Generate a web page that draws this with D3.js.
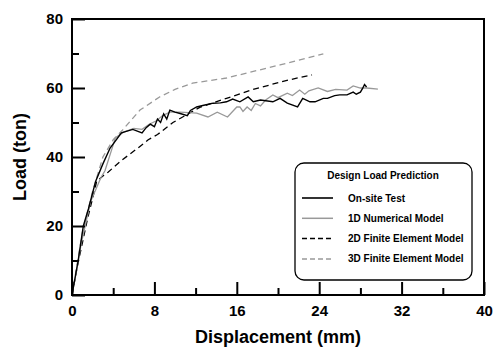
<!DOCTYPE html>
<html>
<head>
<meta charset="utf-8">
<script src="https://cdn.jsdelivr.net/npm/d3@7"></script>
<style>
  body { margin: 0; background: #fff; }
  text { font-family: "Liberation Sans", Arial, sans-serif; font-weight: bold; }
</style>
</head>
<body>
<div id="chart"></div>
<script>
// displacement (mm), load (ton)
const onSiteTest = [
  [0, 0], [0.6, 10], [1.1, 20], [1.6, 25], [2.3, 33], [3.0, 38], [3.7, 42.6], [4.8, 47], [5.9, 48],
  [6.8, 47], [7.2, 48.5], [7.6, 49.5], [8.0, 48.8], [8.3, 51], [8.6, 50], [8.9, 52.5], [9.2, 51],
  [9.5, 53.6], [10.0, 53], [10.5, 52.6], [11.2, 52], [11.5, 53.5], [12.1, 54.5], [12.8, 55],
  [13.7, 55.6], [14.4, 55.7], [15.0, 56], [15.6, 56.8], [16.3, 56], [17.1, 57.4], [17.6, 56],
  [18.3, 56.5], [19.5, 56], [20.2, 57], [20.9, 55.6], [21.9, 54.5], [22.4, 57], [23.1, 56],
  [23.6, 56], [24.4, 57], [24.8, 57], [25.5, 57.8], [26.0, 58], [26.7, 58], [27.3, 58.8],
  [27.6, 58.2], [28.0, 58.8], [28.2, 59.8], [28.4, 61], [28.6, 60.3]
];
const numerical1D = [
  [0, 0], [0.5, 8], [0.9, 15], [1.8, 27], [2.8, 34], [3.2, 36], [4.0, 43.5], [4.2, 45.5],
  [5.0, 47.2], [6.0, 48.3], [6.8, 48], [7.5, 49.5], [8.2, 50.5], [8.8, 52], [9.5, 53],
  [10.5, 53], [11.7, 52.8], [12.1, 52.7], [13.2, 51.6], [14.1, 53], [15.1, 51.6], [16.0, 54.5],
  [16.3, 54.5], [16.6, 53.2], [17.0, 54.5], [17.4, 53.5], [17.8, 55.5], [18.3, 54.8],
  [18.8, 56.5], [19.5, 58], [20.0, 57.2], [20.9, 58.5], [21.4, 57.8], [22.1, 59.4],
  [22.6, 58.2], [23.0, 59.2], [23.9, 60], [24.8, 59], [25.6, 59.6], [26.7, 59.4],
  [27.3, 60.6], [28.0, 60], [28.6, 60], [29.7, 59.7]
];
const finiteElement2D = [
  [0, 0], [0.5, 8], [1, 15], [1.5, 22], [2, 28], [2.4, 33], [3, 34.5], [3.5, 35.6], [4.8, 39],
  [6.4, 42.6], [7.4, 45], [8.3, 46.5], [9.8, 50], [12.4, 54.4], [15, 57], [17.5, 59.5],
  [20.2, 61.7], [22, 63], [23.3, 63.8]
];
const finiteElement3D = [
  [0, 0], [0.5, 9], [1, 18], [2, 30], [3, 40], [4, 45], [4.9, 47.8], [6.6, 53.6], [8.5, 57.4],
  [10, 59.6], [11.7, 61.4], [15, 62.9], [20.2, 66.7], [24.4, 69.9]
];
const xTicks = [0, 8, 16, 24, 32, 40];
const yTicks = [0, 20, 40, 60, 80];
const legendTitle = "Design Load Prediction";
const seriesNames = ["On-site Test", "1D Numerical Model", "2D Finite Element Model", "3D Finite Element Model"];

const W = 494, H = 347;
const margin = { left: 72, right: 10, top: 19, bottom: 52 };

const svg = d3.select("#chart").append("svg").attr("width", W).attr("height", H);

const x = d3.scaleLinear().domain([0, 40]).range([margin.left, W - margin.right]);
const y = d3.scaleLinear().domain([0, 80]).range([H - margin.bottom, margin.top]);

const styles = [
  { color: "#000", dash: null, width: 1.4 },
  { color: "#999", dash: null, width: 1.3 },
  { color: "#000", dash: "6,4", width: 1.3 },
  { color: "#999", dash: "6,4", width: 1.3 },
];
const seriesData = [onSiteTest, numerical1D, finiteElement2D, finiteElement3D];

const line = d3.line().x(d => x(d[0])).y(d => y(d[1]));

// dashed first so the measured curves sit on top
[3, 2, 1, 0].forEach(i => {
  svg.append("path")
    .datum(seriesData[i])
    .attr("d", line)
    .attr("fill", "none")
    .attr("stroke", styles[i].color)
    .attr("stroke-width", styles[i].width)
    .attr("stroke-dasharray", styles[i].dash);
});

// frame
svg.append("rect")
  .attr("x", x(0)).attr("y", y(80))
  .attr("width", x(40) - x(0)).attr("height", y(0) - y(80))
  .attr("fill", "none").attr("stroke", "#000").attr("stroke-width", 2);

// axes, ticks pointing inward
const xAxis = svg.append("g").attr("transform", `translate(0,${y(0)})`)
  .call(d3.axisBottom(x).tickValues(xTicks).tickSize(-13).tickFormat(d3.format("d")));
svg.append("g").attr("transform", `translate(0,${y(0)})`)
  .call(d3.axisBottom(x).tickValues(d3.range(4, 40, 8)).tickSize(-7).tickFormat(""));
const yAxis = svg.append("g").attr("transform", `translate(${x(0)},0)`)
  .call(d3.axisLeft(y).tickValues(yTicks).tickSize(-13).tickFormat(d3.format("d")));
svg.append("g").attr("transform", `translate(${x(0)},0)`)
  .call(d3.axisLeft(y).tickValues(d3.range(10, 80, 20)).tickSize(-7).tickFormat(""));

svg.selectAll(".domain").remove();
svg.selectAll(".tick line").attr("stroke", "#000").attr("stroke-width", 2);
xAxis.selectAll(".tick text")
  .attr("font-size", 15).attr("font-family", "Liberation Sans, Arial, sans-serif").attr("font-weight", "bold")
  .attr("y", 16).attr("dy", "0.35em");
yAxis.selectAll(".tick text")
  .attr("font-size", 15).attr("font-family", "Liberation Sans, Arial, sans-serif").attr("font-weight", "bold")
  .attr("x", -9);

// axis titles
svg.append("text")
  .attr("x", (x(0) + x(40)) / 2).attr("y", 343)
  .attr("text-anchor", "middle").attr("font-size", 18)
  .text("Displacement (mm)");
svg.append("text")
  .attr("transform", `translate(26,${(y(0) + y(80)) / 2}) rotate(-90)`)
  .attr("text-anchor", "middle").attr("font-size", 18)
  .text("Load (ton)");

// legend
const lg = svg.append("g").attr("transform", "translate(295,163)");
lg.append("rect")
  .attr("width", 177).attr("height", 117).attr("rx", 9)
  .attr("fill", "#fff").attr("stroke", "#000").attr("stroke-width", 1.3);
lg.append("text")
  .attr("x", 88).attr("y", 15.5).attr("text-anchor", "middle").attr("font-size", 10)
  .text(legendTitle);
seriesNames.forEach((name, i) => {
  const yy = 35 + i * 20.3;
  lg.append("line")
    .attr("x1", 7).attr("x2", 38).attr("y1", yy).attr("y2", yy)
    .attr("stroke", styles[i].color).attr("stroke-width", styles[i].width + 0.2)
    .attr("stroke-dasharray", styles[i].dash ? "5,3" : null);
  lg.append("text")
    .attr("x", 53).attr("y", yy + 3.5).attr("font-size", 10)
    .text(name);
});
</script>
</body>
</html>
